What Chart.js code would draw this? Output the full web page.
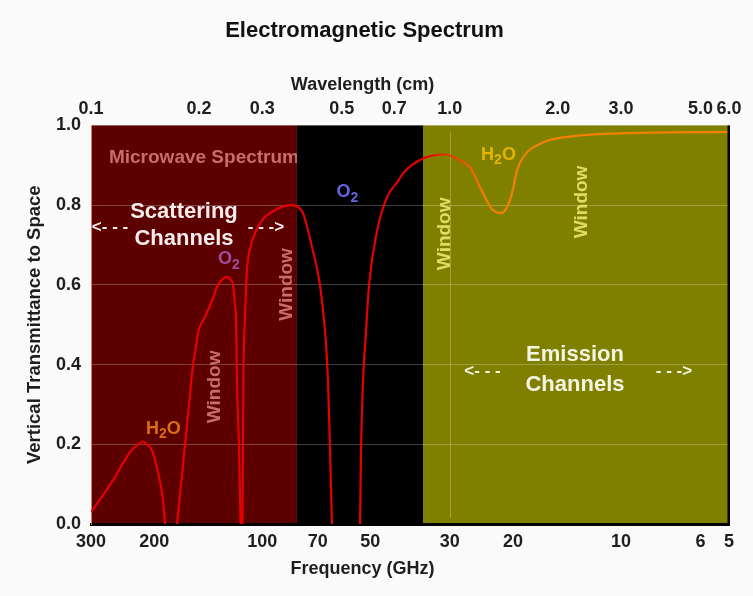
<!DOCTYPE html>
<html>
<head>
<meta charset="utf-8">
<title>Electromagnetic Spectrum</title>
<script src="https://cdn.jsdelivr.net/npm/chart.js@4/dist/chart.umd.min.js"></script>
<style>
  html, body { margin: 0; padding: 0; background: #fafafa; }
  #wrap { position: relative; width: 753px; height: 596px; }
</style>
</head>
<body>
<div id="wrap"><canvas id="spectrum"></canvas></div>
<script>
/* Atmospheric transmittance across the microwave spectrum.
   Curve: wavelength (cm) vs vertical
   transmittance to space. null = no transmission (line break). */

const wavelengthCm = [
  0.1000, 0.1019, 0.1152, 0.1284, 0.1352, 0.1396, 0.1432, 0.1479, 0.1537, 0.1587, 0.1608,
  0.1670,
  0.1737, 0.1782, 0.1829, 0.1876, 0.1925, 0.1962, 0.1988, 0.2079, 0.2174, 0.2260,
  0.2333, 0.2394, 0.2456, 0.2488, 0.2520, 0.2536, 0.2553, 0.2586, 0.2611,
  0.2627,
  0.2644, 0.2658, 0.2687, 0.2722, 0.2775, 0.2865, 0.3016, 0.3299, 0.3586, 0.3751,
  0.3898, 0.4130, 0.4347, 0.4489, 0.4576, 0.4635, 0.4695,
  0.5150,
  0.5622, 0.5658, 0.5731, 0.5842, 0.5956, 0.6270, 0.6685, 0.7174, 0.7408, 0.8421,
  0.9697, 1.0677, 1.1386, 1.2140, 1.2698, 1.3196, 1.3891, 1.4436, 1.4907, 1.5393,
  1.5997, 1.8184, 2.1601, 2.9812, 6.0
];

const transmittance = [
  0.03, 0.04, 0.11, 0.18, 0.20, 0.207, 0.20, 0.185, 0.13, 0.06, 0.0,
  null,
  0.0, 0.10, 0.20, 0.30, 0.40, 0.445, 0.48, 0.52, 0.56, 0.60,
  0.615, 0.62, 0.612, 0.60, 0.55, 0.52, 0.35, 0.19, 0.0,
  null,
  0.0, 0.35, 0.52, 0.64, 0.69, 0.73, 0.765, 0.79, 0.80, 0.797,
  0.78, 0.695, 0.60, 0.485, 0.36, 0.19, 0.0,
  null,
  0.0, 0.19, 0.36, 0.485, 0.60, 0.735, 0.82, 0.86, 0.88, 0.917,
  0.927, 0.912, 0.895, 0.845, 0.81, 0.787, 0.78, 0.795, 0.83, 0.887,
  0.92, 0.957, 0.972, 0.98, 0.984
];

const wavelengthTicks = [0.1, 0.2, 0.3, 0.5, 0.7, 1.0, 2.0, 3.0, 5.0, 6.0];   // cm
const frequencyTicks  = [300, 200, 100, 70, 50, 30, 20, 10, 6, 5];            // GHz
const transTicks      = [0, 0.2, 0.4, 0.6, 0.8, 1.0];
const bandEdges       = [0.1, 0.375, 0.842, 6.0];   // cm: scattering / O2 / emission
const windowMarker    = 1.0;                        // cm

(function () {
  'use strict';

  const canvas = document.getElementById('spectrum');
  if (!canvas || typeof Chart === 'undefined') return;

  const FONT = '"Liberation Sans", Arial, Helvetica, sans-serif';
  const CM_GHZ = 30;   // wavelength (cm) = 30 / frequency (GHz)

  const colors = {
    bands:    ['#5c0000', '#000000', '#808000'],
    grid:     'rgba(255, 255, 255, 0.25)',
    edge:     'rgba(235, 160, 160, 0.8)',
    text:     '#1e1e1e',
    red:      '#e60000',
    orange:   '#f08000',
    pink:     '#c86c6c',
    white:    '#f4ecec',
    cream:    '#f4f4e4',
    yellow:   '#dede66',
    gold:     '#e6b400',
    h2oLeft:  '#dc6e14',
    o2Purple: '#a04ca0',
    o2Blue:   '#6464dc'
  };

  Chart.defaults.font.family = FONT;
  Chart.defaults.color = colors.text;

  function font(size) { return 'bold ' + size + 'px ' + FONT; }

  function text(ctx, str, x, y, size, color, rotate) {
    ctx.save();
    ctx.translate(x, y);
    if (rotate) ctx.rotate(-Math.PI / 2);
    ctx.font = font(size);
    ctx.fillStyle = color;
    ctx.textAlign = 'center';
    ctx.textBaseline = 'middle';
    ctx.fillText(str, 0, 0);
    ctx.restore();
  }

  // H2O / O2 with a lowered "2"
  function formula(ctx, a, sub, b, cx, cy, size, color) {
    const small = Math.round(size * 0.8);
    ctx.save();
    ctx.font = font(size);
    const wa = ctx.measureText(a).width;
    const wb = b ? ctx.measureText(b).width : 0;
    ctx.font = font(small);
    const ws = ctx.measureText(sub).width;
    let x = cx - (wa + ws + wb) / 2;
    ctx.fillStyle = color;
    ctx.textAlign = 'left';
    ctx.textBaseline = 'middle';
    ctx.font = font(size);
    ctx.fillText(a, x, cy);
    x += wa;
    ctx.font = font(small);
    ctx.fillText(sub, x, cy + size * 0.3);
    x += ws;
    if (b) { ctx.font = font(size); ctx.fillText(b, x, cy); }
    ctx.restore();
  }

  /* coloured bands, 1 cm window marker, band caption */
  const bandsPlugin = {
    id: 'bands',
    beforeDraw(chart) {
      const { ctx, chartArea: a, scales: { x } } = chart;
      ctx.save();
      for (let i = 0; i < colors.bands.length; i++) {
        const x0 = x.getPixelForValue(bandEdges[i]);
        const x1 = x.getPixelForValue(bandEdges[i + 1]);
        ctx.fillStyle = colors.bands[i];
        ctx.fillRect(x0, a.top, x1 - x0, a.bottom - a.top);
      }
      const wx = Math.round(x.getPixelForValue(windowMarker)) + 0.5;
      ctx.strokeStyle = colors.grid;
      ctx.lineWidth = 1;
      ctx.beginPath();
      ctx.moveTo(wx, a.top + 6);
      ctx.lineTo(wx, a.bottom - 6);
      ctx.stroke();

      // caption is cut off by the O2 band
      const redEnd = x.getPixelForValue(bandEdges[1]);
      ctx.beginPath();
      ctx.rect(a.left, a.top, redEnd - a.left, a.bottom - a.top);
      ctx.clip();
      ctx.font = font(19);
      ctx.fillStyle = colors.pink;
      ctx.textAlign = 'left';
      ctx.textBaseline = 'middle';
      ctx.fillText('Microwave Spectrum', x.getPixelForValue(0.1122), chart.scales.y.getPixelForValue(0.92));
      ctx.restore();
    }
  };

  /* labels inside the plot, placed in data coordinates */
  const notesPlugin = {
    id: 'notes',
    afterDatasetsDraw(chart) {
      const { ctx, scales: { x, y } } = chart;
      const px = (w) => x.getPixelForValue(w);
      const py = (t) => y.getPixelForValue(t);

      text(ctx, 'Scattering', px(0.1816), py(0.784), 22, colors.white);
      text(ctx, 'Channels',   px(0.1816), py(0.714), 22, colors.white);
      text(ctx, '<- - -', px(0.1130), py(0.744), 17, colors.white);
      text(ctx, '- - ->', px(0.3074), py(0.744), 17, colors.white);

      text(ctx, 'Emission', px(2.233), py(0.423), 22, colors.cream);
      text(ctx, 'Channels', px(2.233), py(0.350), 22, colors.cream);
      text(ctx, '<- - -', px(1.2335), py(0.383), 17, colors.cream);
      text(ctx, '- - ->', px(4.216),  py(0.383), 17, colors.cream);

      text(ctx, 'Window', px(0.2209), py(0.344), 19, colors.pink, true);
      text(ctx, 'Window', px(0.3507), py(0.601), 19, colors.pink, true);
      text(ctx, 'Window', px(0.9665), py(0.728), 19, colors.yellow, true);
      text(ctx, 'Window', px(2.328),  py(0.808), 19, colors.yellow, true);

      formula(ctx, 'H', '2', 'O', px(0.1592), py(0.238), 18, colors.h2oLeft);
      formula(ctx, 'O', '2', '',  px(0.2424), py(0.664), 18, colors.o2Purple);
      formula(ctx, 'O', '2', '',  px(0.5186), py(0.832), 18, colors.o2Blue);
      formula(ctx, 'H', '2', 'O', px(1.367),  py(0.926), 18, colors.gold);
    }
  };

  /* right frame edge and the two horizontal axis captions */
  const framePlugin = {
    id: 'frame',
    afterDraw(chart) {
      const { ctx, chartArea: a, titleBlock } = chart;
      ctx.save();
      ctx.fillStyle = '#000';
      ctx.fillRect(a.right - 1.5, a.top, 2.5, a.bottom - a.top + 1);
      ctx.restore();
      const cx = (titleBlock.left + titleBlock.right) / 2 - 2;
      text(ctx, 'Wavelength (cm)', cx, a.top - 40, 18, colors.text);
      text(ctx, 'Frequency (GHz)', cx, a.bottom + 45, 18, colors.text);
    }
  };

  const curveColor = (c) => {
    const { chart } = c;
    if (!chart.chartArea) return colors.red;
    const xs = chart.scales.x;
    const g = chart.ctx.createLinearGradient(xs.getPixelForValue(0.86), 0, xs.getPixelForValue(1.25), 0);
    g.addColorStop(0, colors.red);
    g.addColorStop(1, colors.orange);
    return g;
  };

  const tickFont = { size: 18, weight: 'bold' };

  new Chart(canvas, {
    type: 'line',
    data: {
      datasets: [{
        label: 'Vertical transmittance',
        data: wavelengthCm.map((w, i) => ({ x: w, y: transmittance[i] })),
        borderColor: curveColor,
        borderWidth: 2.2,
        pointRadius: 0,
        cubicInterpolationMode: 'monotone',
        spanGaps: false,
        fill: false
      }]
    },
    options: {
      responsive: true,
      maintainAspectRatio: false,
      animation: false,
      layout: { padding: { left: 0, right: 24, top: 0, bottom: 0 } },
      plugins: {
        legend: { display: false },
        tooltip: { enabled: false },
        title: {
          display: true,
          text: 'Electromagnetic Spectrum',
          color: '#111',
          font: { size: 22, weight: 'bold' },
          padding: { top: 18, bottom: 8 }
        }
      },
      scales: {
        x: {
          type: 'logarithmic',
          position: 'bottom',
          min: 0.1,
          max: 6,
          afterBuildTicks: (s) => { s.ticks = frequencyTicks.map((f) => ({ value: CM_GHZ / f })); },
          afterFit: (s) => { s.height = 72; },
          grid: { display: false, drawTicks: false },
          border: { display: true, color: '#000', width: 3 },
          ticks: {
            autoSkip: false, maxRotation: 0, padding: 7, font: tickFont,
            callback: (v, i) => String(frequencyTicks[i])
          }
        },
        x2: {
          type: 'logarithmic',
          position: 'top',
          min: 0.1,
          max: 6,
          afterBuildTicks: (s) => { s.ticks = wavelengthTicks.map((v) => ({ value: v })); },
          afterFit: (s) => { s.height = 73; },
          grid: { display: false, drawTicks: false },
          border: { display: false },
          ticks: {
            autoSkip: false, maxRotation: 0, padding: 6, font: tickFont,
            callback: (v, i) => wavelengthTicks[i].toFixed(1)
          }
        },
        y: {
          min: 0,
          max: 1,
          afterBuildTicks: (s) => { s.ticks = transTicks.map((v) => ({ value: v })); },
          afterFit: (s) => { s.width = 91; },
          grid: {
            drawTicks: false,
            color: (c) => (c.tick && c.tick.value > 0 && c.tick.value < 1) ? colors.grid : 'transparent'
          },
          border: { display: true, color: colors.edge, width: 1 },
          ticks: { padding: 10, font: tickFont, callback: (v) => Number(v).toFixed(1) },
          title: {
            display: true,
            text: 'Vertical Transmittance to Space',
            color: colors.text,
            font: { size: 18.5, weight: 'bold' },
            padding: { top: 24, bottom: 0 }
          }
        }
      }
    },
    plugins: [bandsPlugin, notesPlugin, framePlugin]
  });
})();
</script>
</body>
</html>
